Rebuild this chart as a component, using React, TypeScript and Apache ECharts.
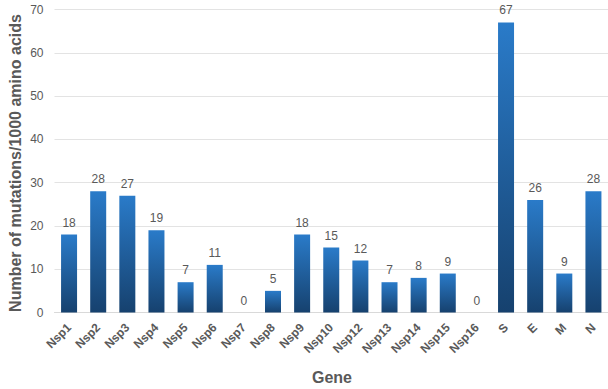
import React, { useEffect, useRef } from "react";
import * as echarts from "echarts";

const genes = [
  "Nsp1", "Nsp2", "Nsp3", "Nsp4", "Nsp5", "Nsp6", "Nsp7", "Nsp8", "Nsp9", "Nsp10",
  "Nsp12", "Nsp13", "Nsp14", "Nsp15", "Nsp16", "S", "E", "M", "N",
];
const mutationsPer1000 = [18, 28, 27, 19, 7, 11, 0, 5, 18, 15, 12, 7, 8, 9, 0, 67, 26, 9, 28];
const yTicks = { min: 0, max: 70, interval: 10 };
const xTitle = "Gene";
const yTitle = "Number of mutations/1000 amino acids";

const FONT = "'Liberation Sans', Arial, sans-serif";
const GREY = "#595959";

export default function App() {
  const ref = useRef<HTMLDivElement>(null);

  useEffect(() => {
    if (!ref.current) return;
    const chart = echarts.init(ref.current, undefined, { renderer: "svg" });
    chart.setOption({
      animation: false,
      backgroundColor: "#ffffff",
      grid: { left: 54.5, right: 0, top: 9.5, bottom: 76.5, outerBoundsMode: "none", containLabel: false },
      xAxis: {
        type: "category",
        data: genes,
        axisLine: { lineStyle: { color: "#d9d9d9" } },
        axisTick: { show: false },
        axisLabel: {
          rotate: 45,
          interval: 0,
          color: GREY,
          fontFamily: FONT,
          fontSize: 12,
          fontWeight: "bold",
          margin: 13,
        },
      },
      yAxis: {
        type: "value",
        min: yTicks.min,
        max: yTicks.max,
        interval: yTicks.interval,
        axisLine: { show: false },
        axisTick: { show: false },
        axisLabel: { color: GREY, fontFamily: FONT, fontSize: 12, margin: 11 },
        splitLine: { lineStyle: { color: "#e3e3e3" } },
      },
      // axis titles placed as free text
      graphic: [
        {
          type: "text",
          x: 332,
          y: 377,
          style: {
            text: xTitle,
            fill: GREY,
            font: `bold 16px ${FONT}`,
            textAlign: "center",
            textVerticalAlign: "middle",
          },
        },
        {
          type: "text",
          x: 15,
          y: 163,
          rotation: Math.PI / 2,
          style: {
            text: yTitle,
            fill: GREY,
            font: `bold 16px ${FONT}`,
            textAlign: "center",
            textVerticalAlign: "middle",
          },
        },
      ],
      series: [
        {
          type: "bar",
          data: mutationsPer1000,
          barWidth: 16,
          itemStyle: {
            color: new echarts.graphic.LinearGradient(0, 0, 0, 1, [
              { offset: 0, color: "#2a7bc9" },
              { offset: 1, color: "#16416e" },
            ]),
          },
          label: {
            show: true,
            position: "top",
            distance: 6,
            color: GREY,
            fontFamily: FONT,
            fontSize: 12,
          },
        },
      ],
    });
    return () => chart.dispose();
  }, []);

  return <div ref={ref} style={{ width: 608, height: 389, position: "absolute", left: 0, top: 0 }} />;
}
